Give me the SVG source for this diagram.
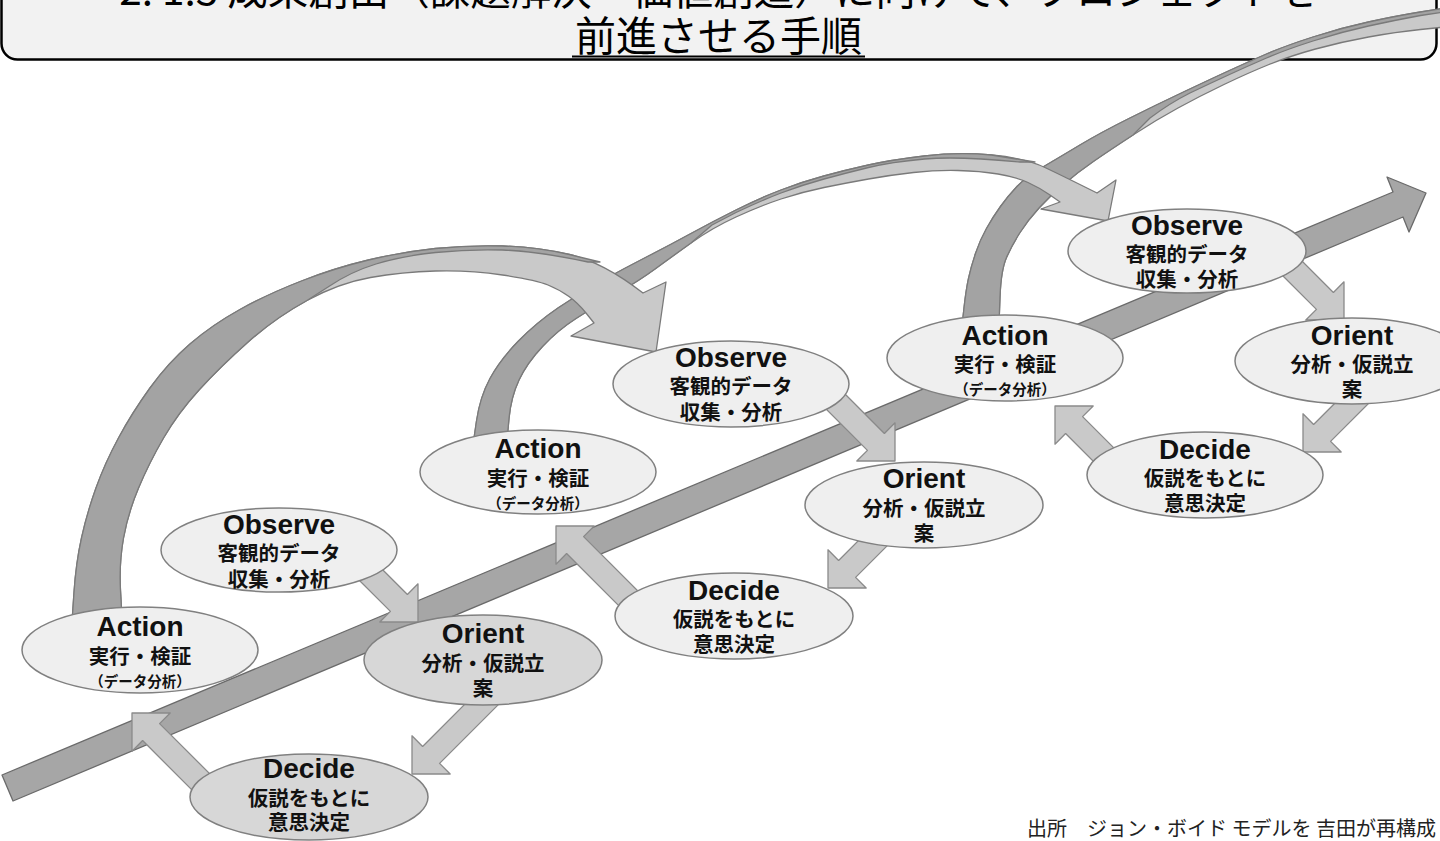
<svg xmlns="http://www.w3.org/2000/svg" width="1440" height="841" viewBox="0 0 1440 841">
<defs>
<style>
.title-box{fill:#f2f2f2;stroke:#000;stroke-width:2.5}
.title{font-family:"Noto Sans CJK JP","Noto Sans",sans-serif;fill:#000;text-anchor:middle}
.main{fill:#a6a6a6;stroke:#6a6a6a;stroke-width:1.3;stroke-linejoin:round}
.arc-light{fill:#c9c9c9;stroke:#7a7a7a;stroke-width:1.3;stroke-linejoin:round}
.arc-dark{fill:#a3a3a3;stroke:#7a7a7a;stroke-width:1.3;stroke-linejoin:round}
.step{fill:#c9c9c9;stroke:#8a8a8a;stroke-width:1.3;stroke-linejoin:round}
.node ellipse{fill:#efefef;stroke:#808080;stroke-width:1.5}
.node.shade ellipse{fill:#d7d7d7}
.node text{text-anchor:middle;fill:#111}
.h{font-family:"Liberation Sans",Arial,sans-serif;font-weight:bold;font-size:28px}
.j{font-family:"Noto Sans CJK JP",sans-serif;font-weight:bold;font-size:20.5px}
.s{font-family:"Noto Sans CJK JP",sans-serif;font-weight:bold;font-size:14.5px}
.src{font-family:"Noto Sans CJK JP",sans-serif;font-size:20px;fill:#222;text-anchor:end}
</style>
</defs>
<rect width="1440" height="841" fill="#fff"/>
<g id="title">
<rect class="title-box" x="1.5" y="-40" width="1435" height="99.5" rx="16"/>
<text class="title" x="719" y="5" font-size="40.5">2. 1.3 成果創出（課題解決・価値創造）に向けて、プロジェクトを</text>
<text class="title" x="718.5" y="51" font-size="41">前進させる手順</text>
<line x1="572" y1="56.5" x2="865" y2="56.5" stroke="#000" stroke-width="1.8"/>
</g>
<g id="connectors">
<path id="main-arrow" class="main" d="M2,775 L1393,192 L1387,177 L1426,193 L1409,232 L1403,217 L13,801 Z"/>
<g id="arc-3">
<path class="arc-light" d="M962,326 L964,308 Q966,290 968.5,278.5 Q971,267 975.5,253.5 Q980,240 986.5,228.5 Q993,217 1000.5,206.5 Q1008,196 1017,186.5 Q1026,177 1043,167 Q1060,157 1080,145 Q1100,133 1128,119 Q1156,105 1183.5,92 Q1211,79 1229.5,70.5 Q1248,62 1266.5,54 Q1285,46 1313,37 Q1341,28 1368.5,22 Q1396,16 1420.5,12 L1445,8 L1445,27 L1420.5,29.5 Q1396,32 1368.5,37 Q1341,42 1315.5,49 Q1290,56 1269,64.5 Q1248,73 1224,84.5 Q1200,96 1178,108 Q1156,120 1133,135 Q1110,150 1094,161 Q1078,172 1064,184 Q1050,196 1039,208 Q1028,220 1020,232.5 Q1012,245 1006.5,257.5 Q1001,270 1000,297 L999,324 Z"/>
<path class="arc-dark" d="M962,326 L964,308 Q966,290 968.5,278.5 Q971,267 975.5,253.5 Q980,240 986.5,228.5 Q993,217 1000.5,206.5 Q1008,196 1017,186.5 Q1026,177 1043,167 Q1060,157 1080,145 Q1100,133 1128,119 Q1156,105 1183.5,92 Q1211,79 1229.5,70.5 Q1248,62 1266.5,54 Q1285,46 1313,37 Q1341,28 1368.5,22 Q1396,16 1420.5,12 L1445,8 L1445,12 L1420.5,15.5 Q1396,20 1368.5,26 Q1341,32 1313,41 Q1285,50 1266.5,58 Q1248,66 1229.5,74.5 Q1211,83 1190,93 Q1170,103 1150,118 L1133,135 Q1110,150 1094,161 Q1078,172 1064,184 Q1050,196 1039,208 Q1028,220 1020,232.5 Q1012,245 1006.5,257.5 Q1001,270 1000,297 L999,324 Z"/>
</g>
<g id="arc-2">
<path class="arc-light" d="M473,445 L476.5,421 Q480,397 490,378.5 Q500,360 518,341.5 Q536,323 558,308 Q580,293 602.5,280.5 Q625,268 647.5,256.5 Q670,245 691,233.5 Q712,222 736,210 Q760,198 781,190 Q802,182 824,176 Q846,170 868.5,165 Q891,160 924.5,156 Q958,152 991.5,155 Q1025,158 1046,168 Q1067,178 1097,193 L1116,180 L1108,221 L1041,209 L1060,202 L1050,195 Q1040,188 1028,182.5 Q1016,177 998,174 Q980,171 958,170.5 Q936,170 913.5,172.5 Q891,175 868.5,179 Q846,183 824,187.5 Q802,192 781,199 Q760,206 736,217 Q712,228 691,243 Q670,258 655,269 Q640,280 617,293.5 Q594,307 576,318.5 Q558,330 542.5,346.5 Q527,363 519,380 Q511,397 509,418.5 L507,440 Z"/>
<path class="arc-dark" d="M473,445 L476.5,421 Q480,397 490,378.5 Q500,360 518,341.5 Q536,323 558,308 Q580,293 602.5,280.5 Q625,268 647.5,256.5 Q670,245 691,233.5 Q712,222 736,210 Q760,198 781,190 Q802,182 824,176 Q846,170 868.5,165 Q891,160 924.5,156 Q958,152 991.5,155 L1035,162 L1020,162 Q958,156 924.5,159 Q891,162 868.5,167.5 Q846,173 824,179 Q802,185 781,193 Q760,201 736,212.5 L712,225 L691,243 Q670,258 655,269 Q640,280 617,293.5 Q594,307 576,318.5 Q558,330 542.5,346.5 Q527,363 519,380 Q511,397 509,418.5 L507,440 Z"/>
</g>
<g id="arc-1">
<path class="arc-light" d="M72,622 L74,592.5 Q76,563 81.5,538 Q87,513 96,488 Q105,463 118.5,438 Q132,413 150,388 Q168,363 190,344 Q212,325 240,309.5 Q268,294 301.5,281 Q335,268 368.5,260 Q402,252 435.5,248.5 Q469,245 502.5,246 Q536,247 569.5,254.5 Q603,262 643,293 L666,282 L656,352 L571,336 L594,323 L586,313 Q578,303 569,296.5 Q560,290 548,285 Q536,280 502.5,275 Q469,270 435.5,271 Q402,272 370.5,277.5 Q339,283 307,300.5 Q275,318 247.5,342.5 Q220,367 199,390 Q178,413 163.5,438 Q149,463 138.5,488 Q128,513 123.5,538 Q119,563 120.5,590.5 L122,618 Z"/>
<path class="arc-dark" d="M72,622 L74,592.5 Q76,563 81.5,538 Q87,513 96,488 Q105,463 118.5,438 Q132,413 150,388 Q168,363 190,344 Q212,325 240,309.5 Q268,294 301.5,281 Q335,268 368.5,260 Q402,252 435.5,248.5 Q469,245 502.5,246 Q536,247 569.5,254.5 L600,262 L588,262 Q536,251 502.5,250 Q469,249 435.5,252.5 Q402,256 376,264 Q350,272 328,287 L307,300.5 Q275,318 247.5,342.5 Q220,367 199,390 Q178,413 163.5,438 Q149,463 138.5,488 Q128,513 123.5,538 Q119,563 120.5,590.5 L122,618 Z"/>
</g>
<path id="o1-or1" class="step" transform="translate(418,622) rotate(45)" d="M0,0 L-27,-27 L-27,-12 L-80,-12 L-80,12 L-27,12 L-27,27 Z"/>
<path id="or1-d1" class="step" transform="translate(412,774) rotate(135)" d="M0,0 L-27,-27 L-27,-12 L-120,-12 L-120,12 L-27,12 L-27,27 Z"/>
<path id="d1-a1" class="step" transform="translate(132,713) rotate(-135)" d="M0,0 L-27,-27 L-27,-12 L-120,-12 L-120,12 L-27,12 L-27,27 Z"/>
<path id="o2-or2" class="step" transform="translate(895,461) rotate(45)" d="M0,0 L-27,-27 L-27,-12 L-100,-12 L-100,12 L-27,12 L-27,27 Z"/>
<path id="or2-d2" class="step" transform="translate(828,588) rotate(135)" d="M0,0 L-27,-27 L-27,-12 L-85,-12 L-85,12 L-27,12 L-27,27 Z"/>
<path id="d2-a2" class="step" transform="translate(556,526) rotate(-135)" d="M0,0 L-27,-27 L-27,-12 L-130,-12 L-130,12 L-27,12 L-27,27 Z"/>
<path id="o3-or3" class="step" transform="translate(1344,320) rotate(45)" d="M0,0 L-27,-27 L-27,-12 L-110,-12 L-110,12 L-27,12 L-27,27 Z"/>
<path id="or3-d3" class="step" transform="translate(1303,452) rotate(135)" d="M0,0 L-27,-27 L-27,-12 L-110,-12 L-110,12 L-27,12 L-27,27 Z"/>
<path id="d3-a3" class="step" transform="translate(1055,406) rotate(-135)" d="M0,0 L-27,-27 L-27,-12 L-120,-12 L-120,12 L-27,12 L-27,27 Z"/>
</g>
<g id="node-action-1" class="node"><ellipse cx="140" cy="650" rx="118" ry="43"/><text class="h" x="140" y="636">Action</text><text class="j" x="140" y="664">実行・検証</text><text class="s" x="140" y="687">（データ分析）</text></g>
<g id="node-observe-1" class="node"><ellipse cx="279" cy="550" rx="118" ry="42"/><text class="h" x="279" y="534">Observe</text><text class="j" x="279" y="561">客観的データ</text><text class="j" x="279" y="587">収集・分析</text></g>
<g id="node-orient-1" class="node shade"><ellipse cx="483" cy="660" rx="119" ry="45"/><text class="h" x="483" y="643">Orient</text><text class="j" x="483" y="671">分析・仮説立</text><text class="j" x="483" y="696">案</text></g>
<g id="node-decide-1" class="node shade"><ellipse cx="309" cy="797" rx="119" ry="43"/><text class="h" x="309" y="778">Decide</text><text class="j" x="309" y="806">仮説をもとに</text><text class="j" x="309" y="830">意思決定</text></g>
<g id="node-action-2" class="node"><ellipse cx="538" cy="472" rx="118" ry="42"/><text class="h" x="538" y="458">Action</text><text class="j" x="538" y="486">実行・検証</text><text class="s" x="538" y="509">（データ分析）</text></g>
<g id="node-observe-2" class="node"><ellipse cx="731" cy="384" rx="118" ry="43"/><text class="h" x="731" y="367">Observe</text><text class="j" x="731" y="394">客観的データ</text><text class="j" x="731" y="420">収集・分析</text></g>
<g id="node-orient-2" class="node"><ellipse cx="924" cy="505" rx="119" ry="43"/><text class="h" x="924" y="488">Orient</text><text class="j" x="924" y="516">分析・仮説立</text><text class="j" x="924" y="541">案</text></g>
<g id="node-decide-2" class="node"><ellipse cx="734" cy="616" rx="119" ry="43"/><text class="h" x="734" y="600">Decide</text><text class="j" x="734" y="627">仮説をもとに</text><text class="j" x="734" y="652">意思決定</text></g>
<g id="node-action-3" class="node"><ellipse cx="1005" cy="358" rx="118" ry="43"/><text class="h" x="1005" y="345">Action</text><text class="j" x="1005" y="372">実行・検証</text><text class="s" x="1005" y="395">（データ分析）</text></g>
<g id="node-observe-3" class="node"><ellipse cx="1187" cy="251" rx="119" ry="42"/><text class="h" x="1187" y="235">Observe</text><text class="j" x="1187" y="262">客観的データ</text><text class="j" x="1187" y="287">収集・分析</text></g>
<g id="node-orient-3" class="node"><ellipse cx="1352" cy="361" rx="117" ry="43"/><text class="h" x="1352" y="345">Orient</text><text class="j" x="1352" y="372">分析・仮説立</text><text class="j" x="1352" y="397">案</text></g>
<g id="node-decide-3" class="node"><ellipse cx="1205" cy="475" rx="118" ry="43"/><text class="h" x="1205" y="459">Decide</text><text class="j" x="1205" y="486">仮説をもとに</text><text class="j" x="1205" y="511">意思決定</text></g>
<text class="src" x="1436" y="836">出所　ジョン・ボイド モデルを 吉田が再構成</text>
</svg>
